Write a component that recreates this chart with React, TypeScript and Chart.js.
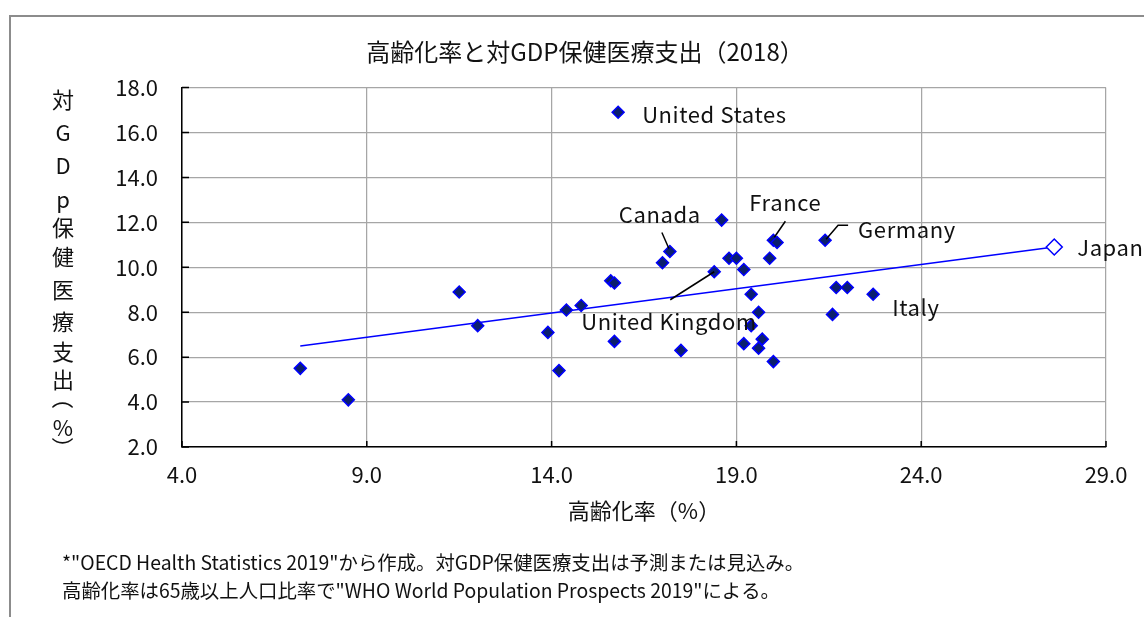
import React, { useEffect, useRef } from "react";
import { Chart, registerables } from "chart.js";

Chart.register(...registerables);

// ---- data ----
const agingRate = [7.2, 8.5, 11.5, 12.0, 13.9, 14.2, 14.4, 14.8, 15.6, 15.7, 15.7, 15.8, 17.0, 17.2, 17.5, 18.4, 18.6, 18.8, 19.0, 19.2, 19.4, 19.4, 19.2, 19.6, 19.7, 19.6, 19.9, 20.0, 20.1, 20.0, 21.4, 21.7, 22.0, 21.6, 22.7];
const healthSpending = [5.5, 4.1, 8.9, 7.4, 7.1, 5.4, 8.1, 8.3, 9.4, 9.3, 6.7, 16.9, 10.2, 10.7, 6.3, 9.8, 12.1, 10.4, 10.4, 9.9, 8.8, 7.4, 6.6, 8.0, 6.8, 6.4, 10.4, 11.2, 11.1, 5.8, 11.2, 9.1, 9.1, 7.9, 8.8];
const countryLabels = ["", "", "", "", "", "", "", "", "", "", "", "United States", "", "Canada", "", "United Kingdom", "", "", "", "", "", "", "", "", "", "", "", "France", "", "", "Germany", "", "", "", "Italy"];
const japanName = "Japan";
const japanAging = [27.6];
const japanHealth = [10.9];
const trendAging = [7.2, 27.6];
const trendHealth = [6.5, 10.9];
const xTicks = [4, 9, 14, 19, 24, 29];
const yTicks = [2, 4, 6, 8, 10, 12, 14, 16, 18];

const chartTitle = "高齢化率と対GDP保健医療支出（2018）";
const xTitle = "高齢化率（%）";
const yTitle = "対GDp保健医療支出（%）";
const footnotes = [
  "*\"OECD Health Statistics 2019\"から作成。対GDP保健医療支出は予測または見込み。",
  "高齢化率は65歳以上人口比率で\"WHO World Population Prospects 2019\"による。",
];

// ---- layout / style (not data) ----
const FONT = "'Noto Sans CJK JP', 'Noto Sans', sans-serif";
const TEXT = "#111111";
const labelLayout: Record<string, { dx: number; dy: number; leader?: number[][] }> = {
  "United States": { dx: 24, dy: 2 },
  Canada: { dx: -51, dy: -37, leader: [[-8, -19], [-1, -3]] },
  France: { dx: -24, dy: -38, leader: [[12, -19], [1, -3]] },
  Germany: { dx: 33, dy: -11, leader: [[23, -15], [13, -15], [1, -1]] },
  Italy: { dx: 19, dy: 13 },
  "United Kingdom": { dx: -133, dy: 50, leader: [[-44, 28], [0, 0]] },
  Japan: { dx: 23, dy: 1 },
};
const yTitleCenters = [100, 133, 166, 200, 228, 257, 290, 322, 352, 380, 398, 428, 448];

const decorPlugin = {
  id: "decor",
  afterDatasetsDraw(chart: any) {
    const { ctx, scales } = chart;
    const xs = scales.x, ys = scales.y;
    const pts: { name: string; x: number; y: number }[] = [];
    countryLabels.forEach((n, i) => {
      if (n) pts.push({ name: n, x: xs.getPixelForValue(agingRate[i]), y: ys.getPixelForValue(healthSpending[i]) });
    });
    pts.push({ name: japanName, x: xs.getPixelForValue(japanAging[0]), y: ys.getPixelForValue(japanHealth[0]) });
    ctx.save();
    ctx.strokeStyle = "#000";
    ctx.lineWidth = 1.5;
    ctx.fillStyle = TEXT;
    ctx.font = `22px ${FONT}`;
    ctx.textAlign = "left";
    ctx.textBaseline = "middle";
    (ctx as any).letterSpacing = "0.6px";
    pts.forEach((p) => {
      const l = labelLayout[p.name];
      if (!l) return;
      if (l.leader) {
        ctx.beginPath();
        l.leader.forEach(([a, b], k) => {
          if (k === 0) ctx.moveTo(p.x + a, p.y + b);
          else ctx.lineTo(p.x + a, p.y + b);
        });
        ctx.stroke();
      }
      ctx.fillText(p.name, p.x + l.dx, p.y + l.dy);
    });
    ctx.restore();
  },
  afterDraw(chart: any) {
    const { ctx, chartArea, scales } = chart;
    ctx.save();
    // inner tick marks
    ctx.strokeStyle = "#000";
    ctx.lineWidth = 1.5;
    ctx.beginPath();
    yTicks.forEach((v) => {
      const y = scales.y.getPixelForValue(v);
      ctx.moveTo(chartArea.left, y);
      ctx.lineTo(chartArea.left + 7, y);
    });
    xTicks.forEach((v) => {
      const x = scales.x.getPixelForValue(v);
      ctx.moveTo(x, chartArea.bottom);
      ctx.lineTo(x, chartArea.bottom - 6);
    });
    ctx.stroke();
    // title
    ctx.fillStyle = TEXT;
    ctx.font = `24px ${FONT}`;
    ctx.textAlign = "center";
    ctx.textBaseline = "middle";
    ctx.fillText(chartTitle, 585, 52);
    // vertical y-axis title
    ctx.font = `22px ${FONT}`;
    Array.from(yTitle).forEach((ch, i) => {
      const cy = yTitleCenters[i];
      if (ch === "（" || ch === "）") {
        ctx.save();
        ctx.translate(63, cy);
        ctx.rotate(Math.PI / 2);
        ctx.fillText(ch, 0, 0);
        ctx.restore();
      } else {
        ctx.fillText(ch, 63, cy);
      }
    });
    // footnotes
    ctx.font = `19.4px ${FONT}`;
    ctx.textAlign = "left";
    ctx.fillText(footnotes[0], 62, 563);
    ctx.fillText(footnotes[1], 62, 591);
    ctx.restore();
  },
};

export default function App() {
  const ref = useRef<HTMLCanvasElement>(null);
  useEffect(() => {
    const canvas = ref.current!;
    const tickFont = { family: FONT, size: 22 };
    const chart = new Chart(canvas, {
      type: "scatter",
      data: {
        datasets: [
          {
            label: "OECD",
            data: agingRate.map((x, i) => ({ x, y: healthSpending[i] })),
            pointStyle: "rectRot",
            pointRadius: 6,
            pointBackgroundColor: "#0b1f6e",
            pointBorderColor: "#0000ff",
            pointBorderWidth: 1.5,
          },
          {
            label: japanName,
            data: japanAging.map((x, i) => ({ x, y: japanHealth[i] })),
            pointStyle: "rectRot",
            pointRadius: 8,
            pointBackgroundColor: "#ffffff",
            pointBorderColor: "#0000ff",
            pointBorderWidth: 1.5,
          },
          {
            label: "trend",
            data: trendAging.map((x, i) => ({ x, y: trendHealth[i] })),
            showLine: true,
            borderColor: "#0000ff",
            borderWidth: 1.5,
            pointRadius: 0,
            fill: false,
          },
        ] as any,
      },
      options: {
        responsive: false,
        animation: false,
        devicePixelRatio: 1,
        layout: { padding: { left: 0, top: 87.5, right: 38, bottom: 93 } },
        plugins: { legend: { display: false }, tooltip: { enabled: false }, title: { display: false } },
        scales: {
          x: {
            type: "linear",
            min: 4,
            max: 29,
            afterBuildTicks: (s: any) => { s.ticks = xTicks.map((v) => ({ value: v })); },
            afterFit: (s: any) => { s.height = 77; },
            grid: { color: "#a6a6a6", lineWidth: 1.25, drawTicks: false },
            border: { color: "#000", width: 1.5 },
            ticks: { padding: 14, font: tickFont, color: TEXT, maxRotation: 0, callback: (v: any) => Number(v).toFixed(1) },
            title: { display: true, text: xTitle, font: { family: FONT, size: 22 }, color: TEXT, padding: 0 },
          },
          y: {
            type: "linear",
            min: 2,
            max: 18,
            afterBuildTicks: (s: any) => { s.ticks = yTicks.map((v) => ({ value: v })); },
            afterFit: (s: any) => { s.width = 182; },
            grid: { color: "#a6a6a6", lineWidth: 1.25, drawTicks: false },
            border: { color: "#000", width: 1.5 },
            ticks: { padding: 24, font: tickFont, color: TEXT, callback: (v: any) => Number(v).toFixed(1) },
          },
        },
      } as any,
      plugins: [decorPlugin],
    });
    return () => chart.destroy();
  }, []);

  return (
    <div style={{ position: "fixed", left: 0, top: 0, width: 1144, height: 617, overflow: "hidden", background: "#fff" }}>
      <div style={{ position: "absolute", left: 9, top: 15, width: 2000, height: 2000, borderLeft: "2px solid #8c8c8c", borderTop: "2px solid #8c8c8c" }} />
      <canvas ref={ref} width={1144} height={617} style={{ position: "absolute", left: 0, top: 0 }} />
    </div>
  );
}
